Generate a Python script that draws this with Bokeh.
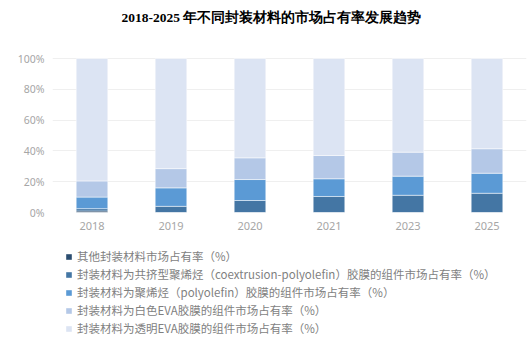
from bokeh.plotting import figure
from bokeh.layouts import column
from bokeh.models import (Range1d, PrintfTickFormatter, Legend, LegendItem, Label,
                          ColumnDataSource, FixedTicker)
from bokeh.embed import file_html
from bokeh.resources import INLINE

years = ["2018", "2019", "2020", "2021", "2023", "2025"]
other = [1.0, 0.0, 0.0, 0.0, 0.0, 0.0]
coextrusion = [1.5, 4.0, 7.8, 10.4, 11.2, 12.5]
polyolefin = [7.5, 12.0, 13.6, 11.5, 12.4, 13.0]
white_eva = [10.5, 12.5, 14.1, 15.1, 15.6, 15.9]
transparent_eva = [79.5, 71.5, 64.5, 63.0, 60.8, 58.6]
y_ticks = [0, 20, 40, 60, 80, 100]

series = ["other", "coextrusion", "polyolefin", "white_eva", "transparent_eva"]
labels = [
    "其他封装材料市场占有率（%）",
    "封装材料为共挤型聚烯烃（coextrusion-polyolefin）胶膜的组件市场占有率（%）",
    "封装材料为聚烯烃（polyolefin）胶膜的组件市场占有率（%）",
    "封装材料为白色EVA胶膜的组件市场占有率（%）",
    "封装材料为透明EVA胶膜的组件市场占有率（%）",
]
colors = ["#2B4D70", "#4476A4", "#5B9AD5", "#B4C8E7", "#DCE4F3"]
title_text = "2018-2025 年不同封装材料的市场占有率发展趋势"

source = ColumnDataSource(dict(years=years, other=other, coextrusion=coextrusion,
                               polyolefin=polyolefin, white_eva=white_eva,
                               transparent_eva=transparent_eva))

# ---- chart ----
p = figure(x_range=years, width=532, height=240, output_backend="svg",
           toolbar_location=None, min_border_left=52, min_border_right=6,
           min_border_top=0, min_border_bottom=28)
# frame is 212 px tall; 100% sits 58 px below the top of the page
p.y_range = Range1d(0, 100 * 212 / 154)

p.vbar_stack(series, x="years", width=0.4, color=colors, source=source,
             line_color="white", line_width=0.5)

p.xgrid.visible = False
p.ygrid.grid_line_color = "#EFEFEF"
p.ygrid.grid_line_width = 1
p.outline_line_color = None

p.yaxis.ticker = FixedTicker(ticks=y_ticks)
p.yaxis.formatter = PrintfTickFormatter(format="%d%%")
for ax in (p.xaxis[0], p.yaxis[0]):
    ax.axis_line_color = None
    ax.major_tick_line_color = None
    ax.minor_tick_line_color = None
    ax.major_label_text_color = "#A6A6A6"
    ax.major_label_text_font = "Noto Sans"
    ax.major_label_text_font_size = "10.5px"
p.xaxis.major_label_text_font_size = "11px"
p.yaxis.major_label_standoff = 2
p.xaxis.major_label_standoff = 3

title = Label(x=219, y=195, x_units="screen", y_units="screen", text=title_text,
              text_align="center", text_baseline="middle",
              text_font="Liberation Serif", text_font_style="bold",
              text_font_size="13.5px", text_color="#000000")
p.add_layout(title)

# ---- legend (its own panel below the chart) ----
lg = figure(width=532, height=106, output_backend="svg", toolbar_location=None,
            x_axis_location=None, y_axis_location=None,
            min_border_left=0, min_border_right=0, min_border_top=0, min_border_bottom=0,
            x_range=Range1d(0, 1), y_range=Range1d(0, 1))
lg.xgrid.visible = False
lg.ygrid.visible = False
lg.outline_line_color = None

items = []
for lab, col in zip(labels, colors):
    r = lg.vbar(x=[0.5], top=[0.5], width=0.4, fill_color=col, line_color=None,
                visible=False)
    items.append(LegendItem(label=lab, renderers=[r]))

legend = Legend(items=items, location=(13, 10), orientation="vertical",
                label_text_font="Noto Sans CJK SC", label_text_font_size="11.5px",
                label_text_color="#7F7F7F", glyph_width=7, glyph_height=7,
                label_height=14, spacing=2, padding=0, margin=0,
                label_standoff=5, border_line_color=None,
                background_fill_alpha=0, inactive_fill_alpha=0)
lg.add_layout(legend, "center")

layout = column(p, lg, spacing=0)
open("out.html", "w").write(file_html(layout, INLINE))
